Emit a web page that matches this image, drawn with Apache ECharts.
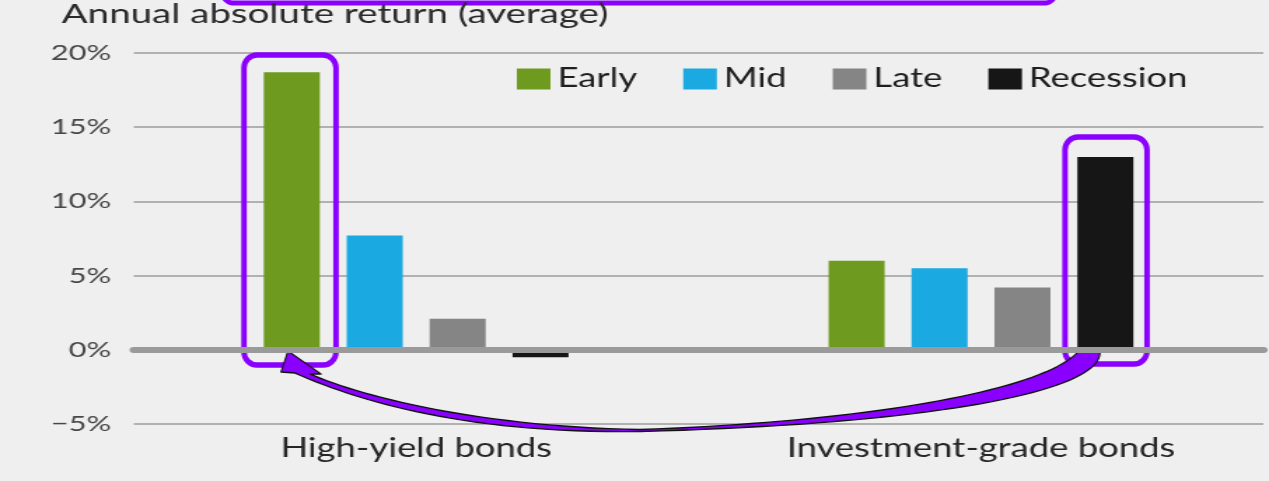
<!DOCTYPE html>
<html>
<head>
<meta charset="utf-8">
<script src="https://cdn.jsdelivr.net/npm/echarts@6/dist/echarts.min.js"></script>
<style>
  html, body { margin: 0; padding: 0; background: #efefef; overflow: hidden; }
  #wrap { width: 1269px; height: 481px; overflow: hidden; background: #efefef; }
  #chart { width: 906px; height: 481px; transform-origin: 0 0; }
</style>
</head>
<body>
<div id="wrap"><div id="chart"></div></div>
<script>
// ---- data ----
var categories = ['High-yield bonds', 'Investment-grade bonds'];
var seriesNames = ['Early', 'Mid', 'Late', 'Recession'];
var early = [18.7, 6.0];
var mid = [7.7, 5.5];
var late = [2.1, 4.2];
var recession = [-0.5, 13.0];
var yTicks = [-5, 0, 5, 10, 15, 20];
var titleText = 'Annual absolute return (average)';

// ---- layout (reference is horizontally stretched) ----
var W = 906;
var S = 1269 / W;
var el = document.getElementById('chart');
el.style.transform = 'scaleX(' + S + ')';

var colors = ['#6e9b1f', '#1aa9e0', '#858585', '#161616'];
var purple = '#8a00ff';
var FONT = 'Lato';

var chart = echarts.init(el, null, { renderer: 'canvas' });

function pct(v) { return v < 0 ? '\u2212' + Math.abs(v) + '%' : v + '%'; }

var valuesList = [early, mid, late, recession];
var series = seriesNames.map(function (n, i) {
  return {
    name: n, type: 'bar', xAxisIndex: 0, yAxisIndex: 0,
    data: valuesList[i],
    barWidth: 40, barGap: '48%',
    itemStyle: { color: colors[i] },
    z: 2
  };
});

var gridBox = { left: 95.5, right: 4, top: 53, bottom: 57 };

var option = {
  backgroundColor: '#efefef',
  animation: false,
  textStyle: { fontFamily: FONT },
  title: {
    text: titleText, left: 44, top: 0, padding: 0,
    textStyle: { fontFamily: FONT, fontSize: 27.5, fontWeight: 'normal', color: '#2a2a2a' }
  },
  legend: {
    data: seriesNames, left: 369, top: 66, padding: 0,
    icon: 'rect', itemWidth: 24, itemHeight: 21, itemGap: 33,
    selectedMode: false,
    textStyle: { fontFamily: FONT, fontSize: 26, color: '#1e1e1e' }
  },
  grid: [
    Object.assign({}, gridBox),
    Object.assign({}, gridBox)
  ],
  xAxis: [
    {
      type: 'category', gridIndex: 0, data: categories,
      axisLine: { show: false, onZero: false },
      axisTick: { show: false },
      axisLabel: { fontFamily: FONT, fontSize: 26, color: '#262626', margin: 12 }
    },
    {
      type: 'category', gridIndex: 1, data: categories, z: 10,
      axisLine: { show: true, onZero: true, lineStyle: { color: '#9a9a9a', width: 6 } },
      axisTick: { show: false }, axisLabel: { show: false }
    }
  ],
  yAxis: [
    {
      type: 'value', gridIndex: 0, min: yTicks[0], max: yTicks[yTicks.length - 1], interval: 5,
      axisLine: { show: false }, axisTick: { show: false },
      splitLine: { show: true, lineStyle: { color: '#9c9c9c', width: 1.6 } },
      axisLabel: { fontFamily: FONT, fontSize: 22, color: '#474747', margin: 16, formatter: pct }
    },
    {
      type: 'value', gridIndex: 1, min: yTicks[0], max: yTicks[yTicks.length - 1], interval: 5,
      show: false
    }
  ],
  series: series
};
chart.setOption(option);

// ---- annotations (drawn in reference pixel space, un-stretched) ----
function cubic(p0, p1, p2, p3, n) {
  var pts = [];
  for (var i = 0; i <= n; i++) {
    var t = i / n, u = 1 - t;
    pts.push([
      u * u * u * p0[0] + 3 * u * u * t * p1[0] + 3 * u * t * t * p2[0] + t * t * t * p3[0],
      u * u * u * p0[1] + 3 * u * u * t * p1[1] + 3 * u * t * t * p2[1] + t * t * t * p3[1]
    ]);
  }
  return pts;
}
var arrowPts = []
  .concat(cubic([1100, 352], [1101, 392], [930, 424], [640, 431.5], 40))
  .concat(cubic([640, 431.5], [470, 434], [360, 402], [295, 373], 30).slice(1))
  .concat([[281, 372], [288, 351], [321, 374]])
  .concat(cubic([310, 374], [360, 396], [480, 427], [640, 429.5], 30))
  .concat(cubic([640, 429.5], [860, 422], [1040, 392], [1078, 352], 40).slice(1));

chart.setOption({
  graphic: {
    elements: [{
      type: 'group', scaleX: 1 / S, z: 100,
      children: [
        { type: 'rect', shape: { x: 223, y: -40, width: 832, height: 43, r: 10 },
          style: { fill: null, stroke: purple, lineWidth: 5 } },
        { type: 'rect', shape: { x: 244, y: 55, width: 92, height: 310, r: 13 },
          style: { fill: null, stroke: purple, lineWidth: 5.5 } },
        { type: 'rect', shape: { x: 1065, y: 137, width: 82, height: 227, r: 13 },
          style: { fill: null, stroke: purple, lineWidth: 5.5 } },
        { type: 'polygon', shape: { points: arrowPts },
          style: { fill: purple, stroke: '#111', lineWidth: 1.4, lineJoin: 'round' } }
      ]
    }]
  }
});
</script>
</body>
</html>
